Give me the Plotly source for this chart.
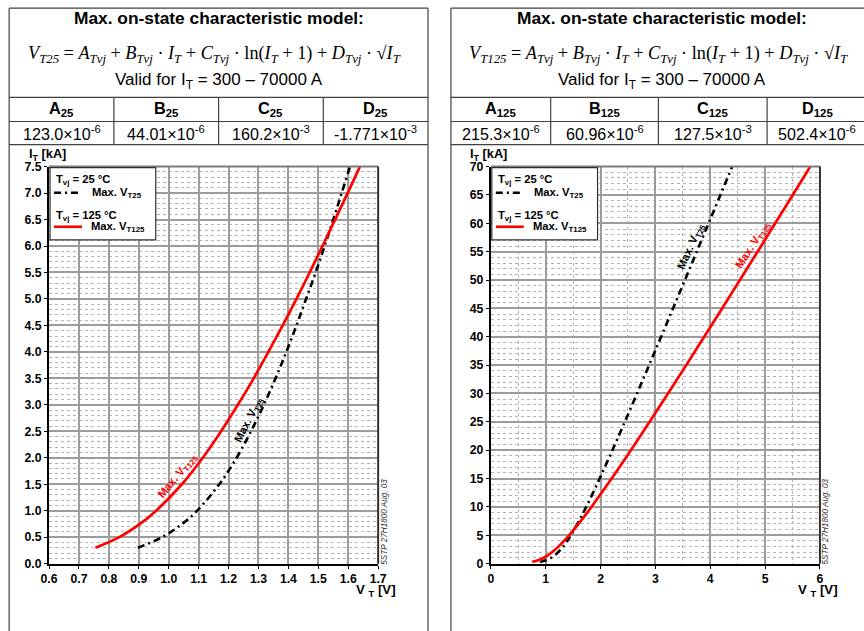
import plotly.graph_objects as go

W, H = 864, 631
# the photographed page shows the figure slightly shrunk with a thin frame;
# positions below are given in picture pixels and converted here
SX, SY, PAD = 864 / 880, 631 / 647, 8
FS = 1.02


def px(x):
    return (x / SX - PAD) / W


def py(y):
    return 1 - (y / SY - PAD) / H


# ---------------- data ----------------
it_left = [0.3, 0.5, 0.75, 1.0, 1.5, 2.0, 2.5, 3.0, 3.5, 4.0, 4.5, 5.0, 5.5, 6.0, 6.5, 7.0, 7.5]
vt25_left = [0.897, 0.978, 1.045, 1.095, 1.169, 1.227, 1.275, 1.318, 1.357, 1.393,
             1.427, 1.459, 1.491, 1.521, 1.550, 1.578, 1.606]
vt125_left = [0.755, 0.835, 0.904, 0.958, 1.044, 1.114, 1.175, 1.231, 1.284, 1.333,
              1.381, 1.427, 1.471, 1.514, 1.556, 1.598, 1.639]

it_right = [0.3, 0.5, 1, 2, 3, 4, 5, 7.5, 10, 15, 20, 25, 30, 35, 40, 45, 50, 55, 60, 65, 70]
vt25_right = [0.897, 0.978, 1.095, 1.227, 1.318, 1.393, 1.459, 1.606, 1.739, 1.984, 2.216,
              2.443, 2.665, 2.885, 3.104, 3.321, 3.538, 3.754, 3.969, 4.185, 4.399]
vt125_right = [0.755, 0.835, 0.958, 1.114, 1.231, 1.333, 1.427, 1.639, 1.834, 2.202, 2.553,
               2.895, 3.230, 3.562, 3.890, 4.216, 4.540, 4.863, 5.184, 5.504, 5.823]

params_headers_25 = ["A<sub>25</sub>", "B<sub>25</sub>", "C<sub>25</sub>", "D<sub>25</sub>"]
params_values_25 = ["123.0×10<sup>-6</sup>", "44.01×10<sup>-6</sup>",
                    "160.2×10<sup>-3</sup>", "-1.771×10<sup>-3</sup>"]
params_headers_125 = ["A<sub>125</sub>", "B<sub>125</sub>", "C<sub>125</sub>", "D<sub>125</sub>"]
params_values_125 = ["215.3×10<sup>-6</sup>", "60.96×10<sup>-6</sup>",
                     "127.5×10<sup>-3</sup>", "502.4×10<sup>-6</sup>"]

SANS = "Liberation Sans"
SERIF = "Liberation Serif"
RED = "#ff0000"
BLACK_DASH = "7px,4px,2px,4px"
GRID = "#9c9c9c"
MINOR = "#b4b4b4"

fig = go.Figure()

fig.add_trace(go.Scatter(x=vt25_left, y=it_left, mode="lines", xaxis="x", yaxis="y",
                         line=dict(color="black", width=2.6, dash=BLACK_DASH, shape="spline"),
                         showlegend=False, hoverinfo="skip"))
fig.add_trace(go.Scatter(x=vt125_left, y=it_left, mode="lines", xaxis="x", yaxis="y",
                         line=dict(color=RED, width=2.7, shape="spline"), showlegend=False,
                         hoverinfo="skip"))
fig.add_trace(go.Scatter(x=vt25_right, y=it_right, mode="lines", xaxis="x2", yaxis="y2",
                         line=dict(color="black", width=2.6, dash=BLACK_DASH, shape="spline"),
                         showlegend=False, hoverinfo="skip"))
fig.add_trace(go.Scatter(x=vt125_right, y=it_right, mode="lines", xaxis="x2", yaxis="y2",
                         line=dict(color=RED, width=2.7, shape="spline"), showlegend=False,
                         hoverinfo="skip"))

tickfont = dict(family=SANS, size=12 * FS, color="black", weight="bold")

common_axis = dict(showline=True, linecolor="black", linewidth=2, ticks="outside", ticklen=3,
                   tickcolor="black", zeroline=False, showgrid=True, gridcolor=GRID,
                   gridwidth=1.5, tickfont=tickfont, fixedrange=True)

L = dict(x0=48, x1=378, y0=167, y1=563)
R = dict(x0=491, x1=821, y0=167, y1=563)

fig.update_layout(
    width=W, height=H, margin=dict(l=0, r=0, t=0, b=0),
    paper_bgcolor="white", plot_bgcolor="white", showlegend=False,
    xaxis=dict(domain=[px(L["x0"]), px(L["x1"])], range=[0.6, 1.7], dtick=0.1, tick0=0.6,
               tickformat=".1f", anchor="y", **common_axis),
    yaxis=dict(domain=[py(L["y1"]), py(L["y0"])], range=[0, 7.5], dtick=0.5, tick0=0,
               tickformat=".1f", anchor="x",
               minor=dict(dtick=0.1, showgrid=True, griddash="dot", gridcolor=MINOR, gridwidth=1),
               **common_axis),
    xaxis2=dict(domain=[px(R["x0"]), px(R["x1"])], range=[0, 6], dtick=1, tick0=0, anchor="y2",
                minor=dict(dtick=0.5, showgrid=True, griddash="dot", gridcolor=MINOR, gridwidth=1),
                **common_axis),
    yaxis2=dict(domain=[py(R["y1"]), py(R["y0"])], range=[0, 70], dtick=5, tick0=0, anchor="x2",
                minor=dict(dtick=1, showgrid=True, griddash="dot", gridcolor=MINOR, gridwidth=1),
                **common_axis),
)

shapes = []
annotations = []


def line(x0, y0, x1, y1, color="#404040", width=1.2, dash="solid"):
    shapes.append(dict(type="line", xref="paper", yref="paper", x0=px(x0), y0=py(y0),
                       x1=px(x1), y1=py(y1), line=dict(color=color, width=width, dash=dash)))


def text(x, y, s, size=12, family=SANS, color="black", bold=False, angle=0, xanchor="center",
         italic=False):
    annotations.append(dict(xref="paper", yref="paper", x=px(x), y=py(y), text=s, showarrow=False,
                            font=dict(family=family, size=size * FS, color=color,
                                      weight="bold" if bold else "normal",
                                      style="italic" if italic else "normal"),
                            textangle=angle, xanchor=xanchor, yanchor="middle"))


def panel(bx0, bx1, cols, cx, temp, headers, values, plot):
    # outer box
    line(bx0, 9, bx1, 9)
    line(bx0, 9, bx0, 640)
    line(bx1, 9, bx1, 640)
    # table
    line(bx0, 98, bx1, 98)
    line(bx0, 122, bx1, 122)
    line(bx0, 145, bx1, 145)
    for c in cols[1:-1]:
        line(c, 98, c, 145)
    text(cx, 19, "Max. on-state characteristic model:", size=17, bold=True)
    formula = ("<i>V<sub>T" + temp + "</sub></i> = <i>A<sub>Tvj</sub></i> + <i>B<sub>Tvj</sub></i> · "
               "<i>I<sub>T</sub></i> + <i>C<sub>Tvj</sub></i> · ln(<i>I<sub>T</sub></i> + 1) + "
               "<i>D<sub>Tvj</sub></i> · √<i>I<sub>T</sub></i>")
    text(cx - 4, 55, formula, size=17.9, family=SERIF)
    text(cx, 82, "Valid for I<sub>T</sub> = 300 – 70000 A", size=16.7)
    for i in range(4):
        mid = (cols[i] + cols[i + 1]) / 2
        text(mid, 110, headers[i], size=16, bold=True)
        text(mid, 133, values[i], size=15.8)
    # plot top/right border
    line(plot["x0"], plot["y0"], plot["x1"], plot["y0"], color="#7a7a7a", width=2)
    line(plot["x1"], plot["y0"], plot["x1"], plot["y1"], color="#303030", width=2)
    # axis titles
    text(plot["x0"] - 2, 155, "I<sub>T</sub> [kA]", size=12.5, bold=True)
    text(plot["x1"] - 2, 590, "V <sub>T</sub> [V]", size=13, bold=True)
    # legend box
    shapes.append(dict(type="rect", xref="paper", yref="paper", x0=px(plot["x0"] + 1),
                       y0=py(240), x1=px(plot["x0"] + 107), y1=py(plot["y0"] + 1),
                       fillcolor="white", line=dict(color="#303030", width=1.2), layer="above"))
    lx = plot["x0"] + 5
    text(lx, 180, "T<sub>vj</sub> = 25 °C", size=11, bold=True, xanchor="left")
    line(lx, 193, lx + 25, 193, color="black", width=2.6, dash="7px,4px,2px,4px")
    text(lx + 36, 193, "Max. V<sub>T25</sub>", size=11, bold=True, xanchor="left")
    text(lx, 216, "T<sub>vj</sub> = 125 °C", size=11, bold=True, xanchor="left")
    line(lx, 227, lx + 28, 227, color=RED, width=2.6)
    text(lx + 35, 227, "Max. V<sub>T125</sub>", size=11, bold=True, xanchor="left")
    # side marking
    text(plot["x1"] + 6, 521, "5STP 27H1800 Aug. 03", size=8, angle=-90, italic=True,
         color="#333333")


panel(8, 428, [8, 113, 218, 323, 428], 218, "25", params_headers_25, params_values_25, L)
panel(451, 869, [451, 551, 659, 768, 869], 663, "125", params_headers_125, params_values_125, R)

# curve labels (data coordinates)
label_font = dict(family=SANS, size=11 * FS, weight="bold")
annotations.append(dict(xref="x", yref="y", x=1.03, y=1.65, text="Max. V<sub>T125</sub>",
                        showarrow=False, textangle=-51, font=dict(color=RED, **label_font)))
annotations.append(dict(xref="x", yref="y", x=1.27, y=2.73, text="Max. V<sub>T25</sub>",
                        showarrow=False, textangle=-63, font=dict(color="black", **label_font)))
annotations.append(dict(xref="x2", yref="y2", x=3.64, y=55.9, text="Max. V<sub>T25</sub>",
                        showarrow=False, textangle=-66, font=dict(color="black", **label_font)))
annotations.append(dict(xref="x2", yref="y2", x=4.78, y=56.2, text="Max. V<sub>T125</sub>",
                        showarrow=False, textangle=-57, font=dict(color=RED, **label_font)))

fig.update_layout(shapes=shapes, annotations=annotations)
fig.write_html("out.html", config={"displayModeBar": False},
               post_script="document.body.style.margin='0px';document.body.style.overflow='hidden';")
